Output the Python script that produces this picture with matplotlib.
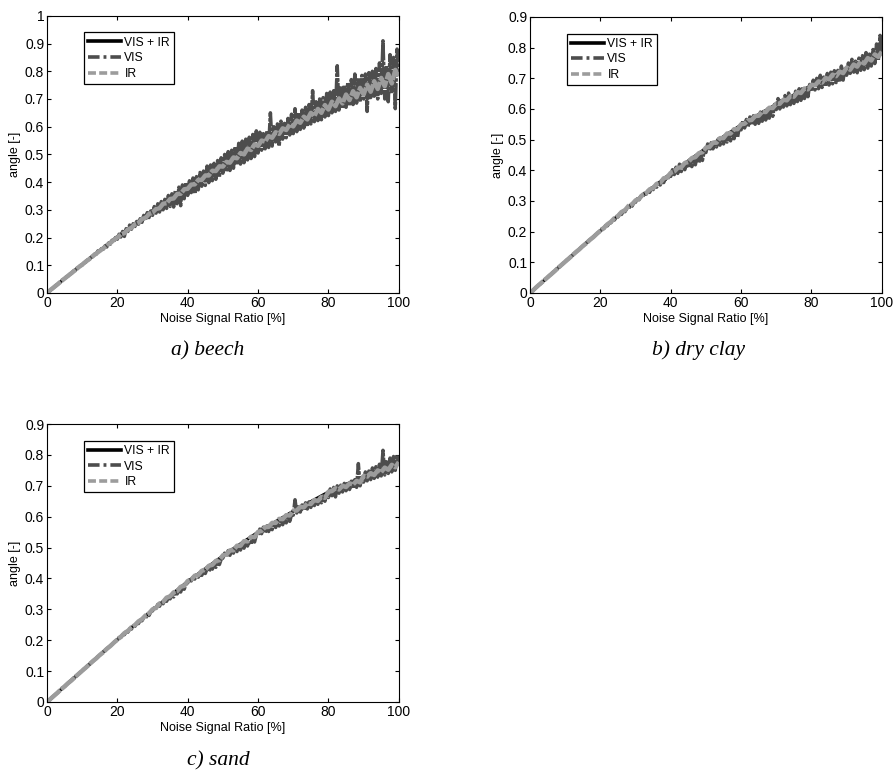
import numpy as np
import matplotlib
matplotlib.use("Agg")
import matplotlib.pyplot as plt
from matplotlib.lines import Line2D
from matplotlib.ticker import FuncFormatter

plt.rcParams['font.family'] = ['Liberation Sans', 'DejaVu Sans']

# ---------------- data ----------------
# noise signal ratio [%] sample grids
x_vis = [i * 0.5 for i in range(201)]
x_ir = list(range(0, 101))
x_comb = list(range(0, 101, 5))

beech_vis = [
    0.000, 0.005, 0.011, 0.015, 0.021, 0.027, 0.031, 0.037, 0.041, 0.048,
    0.051, 0.058, 0.061, 0.068, 0.071, 0.079, 0.082, 0.089, 0.092, 0.099,
    0.101, 0.108, 0.111, 0.119, 0.121, 0.129, 0.131, 0.140, 0.140, 0.152,
    0.148, 0.160, 0.158, 0.170, 0.166, 0.180, 0.176, 0.190, 0.186, 0.200,
    0.194, 0.212, 0.202, 0.222, 0.204, 0.232, 0.222, 0.245, 0.230, 0.250,
    0.240, 0.258, 0.248, 0.268, 0.255, 0.280, 0.262, 0.290, 0.272, 0.296,
    0.280, 0.312, 0.288, 0.322, 0.292, 0.330, 0.300, 0.338, 0.305, 0.352,
    0.312, 0.358, 0.310, 0.370, 0.322, 0.382, 0.315, 0.390, 0.340, 0.398,
    0.352, 0.405, 0.362, 0.415, 0.358, 0.420, 0.372, 0.435, 0.385, 0.440,
    0.388, 0.458, 0.398, 0.462, 0.405, 0.468, 0.410, 0.478, 0.418, 0.488,
    0.432, 0.500, 0.438, 0.510, 0.442, 0.515, 0.450, 0.528, 0.462, 0.540,
    0.465, 0.548, 0.470, 0.555, 0.480, 0.562, 0.485, 0.572, 0.492, 0.585,
    0.505, 0.580, 0.515, 0.575, 0.520, 0.585, 0.525, 0.650, 0.530, 0.600,
    0.545, 0.610, 0.530, 0.620, 0.555, 0.612, 0.560, 0.630, 0.570, 0.645,
    0.575, 0.665, 0.582, 0.650, 0.590, 0.660, 0.595, 0.670, 0.600, 0.680,
    0.610, 0.730, 0.618, 0.690, 0.622, 0.700, 0.625, 0.705, 0.635, 0.720,
    0.640, 0.725, 0.650, 0.730, 0.655, 0.820, 0.660, 0.740, 0.665, 0.750,
    0.670, 0.760, 0.675, 0.770, 0.680, 0.790, 0.685, 0.775, 0.690, 0.785,
    0.700, 0.790, 0.655, 0.795, 0.705, 0.800, 0.710, 0.810, 0.700, 0.830,
    0.720, 0.910, 0.700, 0.820, 0.690, 0.860, 0.720, 0.850, 0.665, 0.880,
    0.800,
]
beech_ir = [
    0.000, 0.011, 0.021, 0.031, 0.042, 0.052, 0.062, 0.072, 0.082, 0.093,
    0.102, 0.113, 0.122, 0.133, 0.142, 0.152, 0.161, 0.172, 0.180, 0.191,
    0.200, 0.211, 0.216, 0.229, 0.235, 0.248, 0.253, 0.267, 0.271, 0.285,
    0.290, 0.303, 0.306, 0.322, 0.324, 0.339, 0.341, 0.357, 0.358, 0.374,
    0.376, 0.391, 0.392, 0.408, 0.408, 0.424, 0.424, 0.441, 0.440, 0.457,
    0.456, 0.473, 0.470, 0.489, 0.486, 0.505, 0.500, 0.521, 0.516, 0.536,
    0.531, 0.550, 0.546, 0.566, 0.560, 0.580, 0.574, 0.594, 0.588, 0.608,
    0.601, 0.622, 0.614, 0.636, 0.626, 0.650, 0.638, 0.664, 0.650, 0.678,
    0.662, 0.690, 0.674, 0.702, 0.684, 0.716, 0.696, 0.728, 0.706, 0.740,
    0.716, 0.752, 0.726, 0.764, 0.736, 0.776, 0.746, 0.790, 0.756, 0.805,
    0.780,
]
beech_comb = [0.000, 0.052, 0.103, 0.153, 0.203, 0.250, 0.297, 0.340, 0.383, 0.423,
              0.463, 0.501, 0.538, 0.573, 0.607, 0.640, 0.672, 0.703, 0.733, 0.762,
              0.790]

clay_vis = [
    0.000, 0.005, 0.010, 0.016, 0.020, 0.026, 0.030, 0.036, 0.041, 0.046,
    0.051, 0.057, 0.061, 0.067, 0.071, 0.077, 0.082, 0.087, 0.092, 0.097,
    0.102, 0.108, 0.112, 0.118, 0.122, 0.128, 0.132, 0.138, 0.142, 0.148,
    0.152, 0.158, 0.163, 0.168, 0.173, 0.178, 0.183, 0.188, 0.193, 0.198,
    0.201, 0.210, 0.210, 0.220, 0.219, 0.228, 0.229, 0.238, 0.238, 0.247,
    0.248, 0.258, 0.256, 0.267, 0.265, 0.276, 0.274, 0.285, 0.283, 0.294,
    0.296, 0.307, 0.304, 0.316, 0.312, 0.325, 0.322, 0.333, 0.328, 0.342,
    0.337, 0.352, 0.345, 0.356, 0.352, 0.365, 0.360, 0.374, 0.368, 0.384,
    0.380, 0.402, 0.386, 0.410, 0.390, 0.420, 0.396, 0.418, 0.402, 0.426,
    0.408, 0.435, 0.412, 0.440, 0.418, 0.448, 0.425, 0.452, 0.432, 0.462,
    0.458, 0.486, 0.464, 0.490, 0.470, 0.496, 0.476, 0.502, 0.482, 0.508,
    0.486, 0.514, 0.492, 0.520, 0.496, 0.526, 0.503, 0.530, 0.508, 0.542,
    0.532, 0.562, 0.538, 0.566, 0.542, 0.574, 0.548, 0.578, 0.550, 0.584,
    0.553, 0.590, 0.560, 0.596, 0.564, 0.600, 0.570, 0.604, 0.576, 0.615,
    0.598, 0.634, 0.600, 0.634, 0.606, 0.644, 0.610, 0.652, 0.614, 0.648,
    0.618, 0.658, 0.624, 0.666, 0.628, 0.672, 0.634, 0.670, 0.640, 0.680,
    0.658, 0.694, 0.662, 0.700, 0.666, 0.710, 0.670, 0.704, 0.674, 0.716,
    0.678, 0.720, 0.682, 0.725, 0.686, 0.726, 0.688, 0.740, 0.694, 0.736,
    0.710, 0.750, 0.716, 0.762, 0.720, 0.756, 0.718, 0.766, 0.726, 0.774,
    0.728, 0.784, 0.733, 0.779, 0.740, 0.794, 0.748, 0.812, 0.758, 0.840,
    0.775,
]
clay_ir = [
    0.000, 0.010, 0.021, 0.031, 0.041, 0.051, 0.061, 0.071, 0.082, 0.092,
    0.102, 0.112, 0.122, 0.133, 0.142, 0.153, 0.162, 0.173, 0.182, 0.193,
    0.203, 0.212, 0.224, 0.232, 0.244, 0.251, 0.264, 0.270, 0.284, 0.289,
    0.302, 0.307, 0.320, 0.325, 0.338, 0.342, 0.356, 0.359, 0.374, 0.377,
    0.392, 0.396, 0.408, 0.410, 0.424, 0.427, 0.440, 0.443, 0.456, 0.459,
    0.474, 0.476, 0.490, 0.490, 0.505, 0.505, 0.520, 0.520, 0.534, 0.534,
    0.550, 0.552, 0.563, 0.564, 0.577, 0.578, 0.591, 0.590, 0.604, 0.603,
    0.617, 0.617, 0.630, 0.628, 0.642, 0.640, 0.655, 0.652, 0.667, 0.664,
    0.679, 0.677, 0.690, 0.686, 0.701, 0.697, 0.712, 0.707, 0.722, 0.717,
    0.735, 0.728, 0.745, 0.738, 0.756, 0.748, 0.766, 0.758, 0.778, 0.770,
    0.787,
]
clay_comb = [0.000, 0.051, 0.102, 0.153, 0.203, 0.252, 0.300, 0.345, 0.390, 0.431,
             0.472, 0.510, 0.548, 0.582, 0.615, 0.646, 0.677, 0.705, 0.733, 0.759,
             0.785]

sand_vis = [
    0.000, 0.005, 0.010, 0.015, 0.020, 0.025, 0.030, 0.036, 0.040, 0.046,
    0.050, 0.056, 0.061, 0.066, 0.071, 0.076, 0.081, 0.086, 0.091, 0.096,
    0.101, 0.107, 0.111, 0.117, 0.121, 0.127, 0.131, 0.137, 0.141, 0.147,
    0.151, 0.157, 0.162, 0.167, 0.172, 0.177, 0.182, 0.187, 0.192, 0.197,
    0.200, 0.209, 0.209, 0.218, 0.218, 0.228, 0.226, 0.237, 0.236, 0.246,
    0.245, 0.255, 0.254, 0.264, 0.263, 0.273, 0.271, 0.282, 0.280, 0.292,
    0.295, 0.305, 0.303, 0.316, 0.310, 0.324, 0.318, 0.330, 0.326, 0.338,
    0.334, 0.346, 0.340, 0.354, 0.350, 0.362, 0.356, 0.372, 0.365, 0.382,
    0.386, 0.396, 0.392, 0.404, 0.398, 0.412, 0.404, 0.416, 0.410, 0.424,
    0.416, 0.432, 0.422, 0.438, 0.430, 0.446, 0.436, 0.452, 0.445, 0.462,
    0.466, 0.482, 0.470, 0.490, 0.475, 0.494, 0.482, 0.500, 0.487, 0.506,
    0.492, 0.512, 0.498, 0.518, 0.505, 0.524, 0.510, 0.530, 0.518, 0.540,
    0.540, 0.560, 0.545, 0.566, 0.548, 0.570, 0.552, 0.575, 0.558, 0.580,
    0.565, 0.584, 0.570, 0.590, 0.574, 0.595, 0.580, 0.600, 0.585, 0.606,
    0.605, 0.655, 0.612, 0.632, 0.615, 0.638, 0.620, 0.645, 0.625, 0.648,
    0.630, 0.652, 0.636, 0.658, 0.640, 0.662, 0.645, 0.668, 0.650, 0.675,
    0.662, 0.690, 0.668, 0.695, 0.664, 0.700, 0.676, 0.702, 0.680, 0.708,
    0.684, 0.712, 0.688, 0.715, 0.692, 0.720, 0.695, 0.772, 0.700, 0.728,
    0.712, 0.745, 0.716, 0.748, 0.720, 0.758, 0.724, 0.762, 0.728, 0.770,
    0.732, 0.815, 0.735, 0.778, 0.740, 0.790, 0.745, 0.795, 0.750, 0.800,
    0.765,
]
sand_ir = [
    0.000, 0.010, 0.020, 0.030, 0.041, 0.050, 0.061, 0.070, 0.081, 0.091,
    0.101, 0.111, 0.121, 0.132, 0.141, 0.152, 0.161, 0.172, 0.181, 0.192,
    0.202, 0.211, 0.223, 0.230, 0.242, 0.249, 0.261, 0.268, 0.280, 0.287,
    0.300, 0.305, 0.319, 0.324, 0.338, 0.342, 0.355, 0.359, 0.373, 0.376,
    0.392, 0.396, 0.409, 0.411, 0.425, 0.428, 0.441, 0.444, 0.457, 0.459,
    0.475, 0.477, 0.491, 0.491, 0.506, 0.506, 0.521, 0.520, 0.535, 0.534,
    0.551, 0.554, 0.566, 0.567, 0.580, 0.580, 0.593, 0.592, 0.605, 0.604,
    0.619, 0.620, 0.632, 0.630, 0.643, 0.641, 0.654, 0.651, 0.664, 0.661,
    0.681, 0.683, 0.692, 0.688, 0.700, 0.696, 0.708, 0.704, 0.716, 0.711,
    0.732, 0.730, 0.741, 0.735, 0.750, 0.744, 0.759, 0.752, 0.768, 0.760,
    0.777,
]
sand_comb = [0.000, 0.051, 0.101, 0.152, 0.202, 0.250, 0.298, 0.344, 0.390, 0.432,
             0.473, 0.512, 0.550, 0.584, 0.618, 0.649, 0.680, 0.705, 0.730, 0.753,
             0.775]

captions = ["a) beech", "b) dry clay", "c) sand"]
y_tops = [1.0, 0.9, 0.9]
x_ticks = [0, 20, 40, 60, 80, 100]
series_names = ["VIS + IR", "VIS", "IR"]

# ---------------- styling ----------------
C_COMB = 'black'
C_VIS = '#4d4d4d'
C_IR = '#9c9c9c'

fig = plt.figure(figsize=(8.93, 7.72), dpi=100)

axes_rects = [
    (0.0526, 0.6205, 0.394, 0.359),
    (0.5935, 0.6205, 0.394, 0.3575),
    (0.0526, 0.0907, 0.394, 0.360),
]
caption_pos = [(0.233, 0.546), (0.782, 0.546), (0.244, 0.014)]

panels = [
    (beech_comb, beech_vis, beech_ir),
    (clay_comb, clay_vis, clay_ir),
    (sand_comb, sand_vis, sand_ir),
]

fmt = FuncFormatter(lambda v, p: f"{v:g}")

legend_handles = [
    Line2D([], [], color=C_COMB, lw=2.6, ls='-'),
    Line2D([], [], color=C_VIS, lw=2.6, dashes=(3.2, 1.1, 0.8, 1.1)),
    Line2D([], [], color=C_IR, lw=2.6, dashes=(2.2, 0.9)),
]

for rect, (comb, vis, ir), ytop, cap, cpos in zip(axes_rects, panels, y_tops,
                                                   captions, caption_pos):
    ax = fig.add_axes(rect)
    ax.plot(x_comb, comb, color=C_COMB, lw=2.2, ls='-')
    ax.plot(x_vis, vis, color=C_VIS, lw=2.5, dashes=(5, 0.4, 1.0, 0.4))
    ax.plot(x_ir, ir, color=C_IR, lw=3.2, dashes=(4, 0.3))
    ax.set_xlim(0, 100)
    ax.set_ylim(0, ytop)
    ax.set_xticks(x_ticks)
    ax.set_yticks(np.round(np.arange(0, ytop + 0.001, 0.1), 1))
    ax.xaxis.set_major_formatter(fmt)
    ax.yaxis.set_major_formatter(fmt)
    ax.tick_params(direction='in', top=True, right=True, labelsize=10,
                   length=3, width=0.8, pad=2)
    for s in ax.spines.values():
        s.set_linewidth(0.8)
    ax.set_xlabel("Noise Signal Ratio [%]", fontsize=9, labelpad=2)
    ax.set_ylabel("angle [-]", fontsize=9, labelpad=3)
    leg = ax.legend(legend_handles, series_names, loc='upper left',
                    bbox_to_anchor=(0.105, 0.94), fontsize=8.7,
                    frameon=True, fancybox=False, edgecolor='black',
                    framealpha=1, handlelength=2.7, handletextpad=0.3,
                    borderpad=0.35, labelspacing=0.3, borderaxespad=0.0)
    leg.get_frame().set_linewidth(0.9)
    fig.text(cpos[0], cpos[1], cap, ha='center', va='center', fontsize=15.5,
             family='Liberation Serif', style='italic')

fig.savefig("out.png", dpi=100)
